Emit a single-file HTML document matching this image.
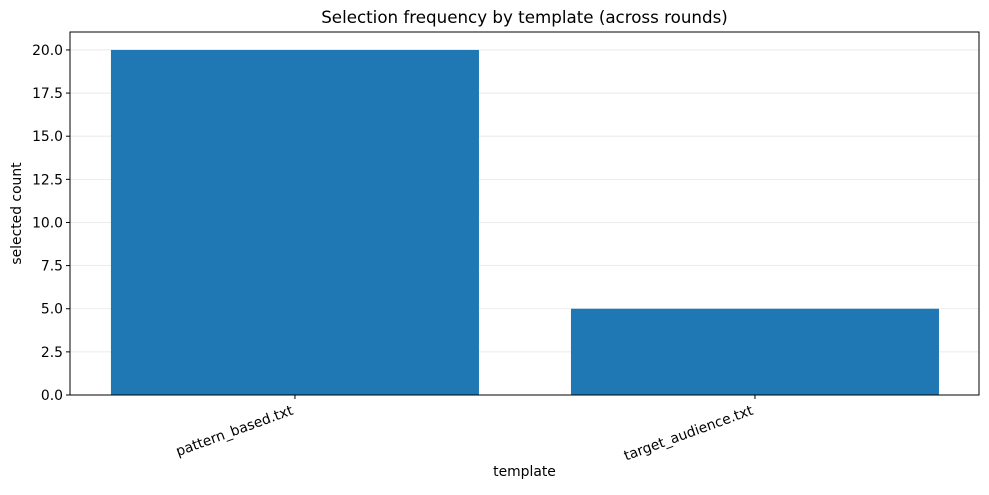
<!DOCTYPE html>
<html><head><meta charset="utf-8"><style>
body{margin:0;background:#fff;font-family:"Liberation Sans","DejaVu Sans",sans-serif}
svg text{font-family:"DejaVu Sans","Liberation Sans",sans-serif;fill:#000}
</style></head><body>
<svg id="chart" width="989" height="490" viewBox="0 0 989 490" xmlns="http://www.w3.org/2000/svg">
<rect width="989" height="490" fill="#fff"/>
<text x="524.5" y="23" font-size="16.7" text-anchor="middle">Selection frequency by template (across rounds)</text>
<g id="grid"></g><g id="bars"></g><g id="yticks"></g><g id="xticks"></g>
<rect x="70" y="32" width="909" height="363" fill="none" stroke="#000" stroke-width="1"/>
<text x="524.5" y="476" font-size="13.9" text-anchor="middle">template</text>
<text transform="translate(21,213.5) rotate(-90)" font-size="13.9" text-anchor="middle">selected count</text>
</svg>
<script>
const categories=["pattern_based.txt","target_audience.txt"];
const counts=[20,5];
const yTicks=[0,2.5,5,7.5,10,12.5,15,17.5,20];
const L=70,R=979,T=32,B=395,xMin=-0.489,xMax=1.487,yMax=21.04;
const NS="http://www.w3.org/2000/svg";
const xs=v=>L+(v-xMin)/(xMax-xMin)*(R-L);
const ys=v=>B-v/yMax*(B-T);
function mk(t,a,p){const e=document.createElementNS(NS,t);for(const k in a)e.setAttribute(k,a[k]);p.appendChild(e);return e;}
const grid=document.getElementById('grid'),bars=document.getElementById('bars'),yt=document.getElementById('yticks'),xt=document.getElementById('xticks');
yTicks.forEach(v=>{const y=ys(v);
const g=mk('line',{x1:L,x2:R,y1:y,y2:y,stroke:'#e6e6e6','stroke-width':0.8},grid);


mk('line',{x1:L-4,x2:L,y1:y,y2:y,stroke:'#000'},yt);
const t=mk('text',{x:L-7,y:y+5,'font-size':13.9,'text-anchor':'end'},yt);t.textContent=v.toFixed(1);

});
categories.forEach((c,i)=>{const x0=xs(i-0.4),x1=xs(i+0.4);
const b=mk('rect',{x:x0,y:ys(counts[i]),width:x1-x0,height:B-ys(counts[i]),fill:'#1f77b4'},bars);


const cx=xs(i);mk('line',{x1:cx,x2:cx,y1:B,y2:B+4,stroke:'#000'},xt);
const t=mk('text',{transform:`translate(${cx-1},${B+19}) rotate(-20)`,'font-size':13.9,'text-anchor':'end'},xt);t.textContent=c;

});
</script>
</body></html>
